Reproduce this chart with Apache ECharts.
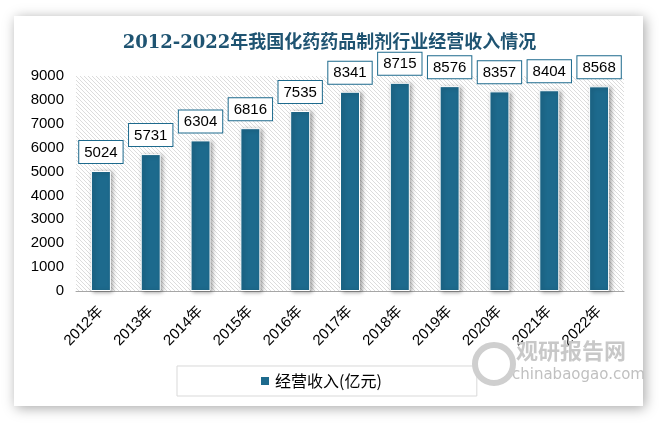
<!DOCTYPE html>
<html><head><meta charset="utf-8">
<script src="https://cdn.jsdelivr.net/npm/echarts@6/dist/echarts.min.js"></script>
<style>html,body{margin:0;padding:0;background:#fff;}#c{width:659px;height:424px;}</style>
</head><body><div id="c"></div>
<script>
const categories = ['2012年','2013年','2014年','2015年','2016年','2017年','2018年','2019年','2020年','2021年','2022年'];
const revenue = [5024,5731,6304,6816,7535,8341,8715,8576,8357,8404,8568];
const seriesName = '经营收入(亿元)';
const titleText = '2012-2022年我国化药药品制剂行业经营收入情况';

// hatch pattern
const pc = document.createElement('canvas');
pc.width = 4; pc.height = 4;
const g = pc.getContext('2d');
g.fillStyle = '#ffffff'; g.fillRect(0,0,4,4);
g.strokeStyle = '#dcdcdc'; g.lineWidth = 1;
g.beginPath();
g.moveTo(-1,-1); g.lineTo(5,5);
g.moveTo(-3,1); g.lineTo(3,7);
g.moveTo(1,-3); g.lineTo(7,3);
g.stroke();

const chart = echarts.init(document.getElementById('c'));
chart.setOption({
  animation:false,
  backgroundColor:'#ffffff',
  graphic:[
    {type:'rect', z:-10, shape:{x:14,y:16,width:629,height:390}, style:{fill:'#fff', shadowBlur:12, shadowColor:'rgba(0,0,0,0.35)', shadowOffsetX:2, shadowOffsetY:2}},
    {type:'text', left:516, top:340, z:5, style:{text:'观研报告网', font:'bold 22px "Noto Sans CJK SC"', fill:'#c8c8c8'}},
    {type:'text', left:512, top:368, z:5, style:{text:'chinabaogao.com', font:'15px "DejaVu Sans"', fill:'#c0c0c0'}},
    {type:'circle', left:472, top:342, z:5, shape:{r:19}, style:{fill:'none', stroke:'#cfcfcf', lineWidth:6}}
  ],
  title:{text:titleText, left:'center', top:29, textStyle:{fontFamily:'"DejaVu Serif","Noto Sans CJK SC",serif', fontSize:18, fontWeight:'bold', color:'#1f5472'}},
  grid:{left:76, right:35, top:76, bottom:133, show:true, backgroundColor:{image:pc, repeat:'repeat'}, borderWidth:0},
  legend:{bottom:28, left:177, width:262, itemWidth:10, itemHeight:10, padding:[7,95,7,82], borderColor:'#d9d9d9', borderWidth:1, icon:'rect', textStyle:{fontSize:16, color:'#000', fontFamily:'"Noto Sans CJK SC"'}},
  xAxis:{type:'category', data:categories, axisLine:{lineStyle:{color:'#a6a6a6'}}, axisTick:{show:false},
    axisLabel:{rotate:45, interval:0, fontSize:15, color:'#000', margin:18, fontFamily:'"Liberation Sans","Noto Sans CJK SC"'}},
  yAxis:{type:'value', min:0, max:9000, interval:1000, splitLine:{show:false}, axisLine:{show:false}, axisTick:{show:false},
    axisLabel:{fontSize:15, color:'#000', margin:12, formatter:function(v){return String(v);}, fontFamily:'"Liberation Sans",sans-serif'}},
  series:[{name:seriesName, type:'bar', data:revenue, barWidth:20,
    itemStyle:{color:'#1d6a8d', borderColor:'#ffffff', borderWidth:1, shadowBlur:4, shadowColor:'rgba(0,0,0,0.35)', shadowOffsetX:2, shadowOffsetY:1},
    label:{show:true, position:'top', distance:8, fontSize:15, color:'#000', backgroundColor:'#fff', borderColor:'#1d6a8d', borderWidth:1, padding:[4,5,3,5], fontFamily:'"Liberation Sans",sans-serif'}}]
});
</script></body></html>
